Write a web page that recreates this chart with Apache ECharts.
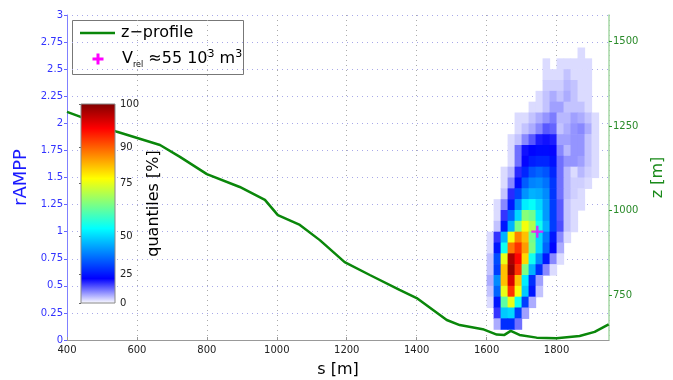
<!DOCTYPE html>
<html>
<head>
<meta charset="utf-8">
<script src="https://cdn.jsdelivr.net/npm/echarts@6/dist/echarts.min.js"></script>
<style>
  html, body { margin: 0; padding: 0; background: #fff; }
  #chart { width: 673px; height: 380px; }
</style>
</head>
<body>
<div id="chart"></div>
<script>
// z-profile along the path
const profileS = [400, 437, 543, 666, 723, 800, 894, 966, 1003, 1066, 1123, 1194, 1266, 1351, 1400, 1486, 1523, 1589, 1629, 1651, 1669, 1694, 1743, 1800, 1866, 1909, 1949];
const profileZ = [1292, 1278, 1233, 1194, 1159, 1108, 1070, 1032, 987, 958, 913, 848, 810, 766, 742, 677, 662, 650, 634, 633, 645, 633, 625, 623, 630, 642, 664];

// release point marker
const markerS = [1745];
const markerR = [1.0];

// axis ticks
const zTicks = [750, 1000, 1250, 1500];
const quantTicks = [0, 25, 50, 75, 90, 100];
const quantPos = [0, 0.146, 0.337, 0.603, 0.784, 1];   // where each quantile label sits on the bar

// density grid: lower-left corners of cells, values are quantiles [%]
const cellS = [1600, 1620, 1640, 1660, 1680, 1700, 1720, 1740, 1760, 1780, 1800, 1820, 1840, 1860, 1880, 1900, 1920];
const cellR = [2.6, 2.5, 2.4, 2.3, 2.2, 2.1, 2.0, 1.9, 1.8, 1.7, 1.6, 1.5, 1.4, 1.3, 1.2, 1.1, 1.0, 0.9, 0.8, 0.7, 0.6, 0.5, 0.4, 0.3, 0.2, 0.1];
const quantileGrid = [
  [0, 0, 0, 0, 0, 0, 0, 0, 0, 0, 0, 0, 0, 3, 0, 0, 0],
  [0, 0, 0, 0, 0, 0, 0, 0, 3, 0, 3, 3, 3, 3, 3, 0, 0],
  [0, 0, 0, 0, 0, 0, 0, 0, 3, 3, 3, 5, 3, 3, 3, 0, 0],
  [0, 0, 0, 0, 0, 0, 0, 0, 4, 4, 4, 6, 5, 3, 3, 0, 0],
  [0, 0, 0, 0, 0, 0, 0, 3, 5, 7, 5, 7, 5, 3, 3, 0, 0],
  [0, 0, 0, 0, 0, 0, 3, 3, 5, 8, 8, 5, 5, 5, 3, 0, 0],
  [0, 0, 0, 0, 3, 3, 5, 7, 9, 11, 6, 6, 8, 7, 5, 3, 0],
  [0, 0, 0, 0, 3, 5, 7, 10, 14, 13, 5, 7, 9, 10, 7, 3, 0],
  [0, 0, 0, 3, 5, 10, 14, 19, 20, 19, 8, 8, 9, 9, 5, 3, 0],
  [0, 0, 0, 3, 12, 20, 22, 23, 23, 21, 10, 6, 9, 9, 5, 3, 0],
  [0, 0, 0, 3, 12, 21, 26, 27, 27, 24, 12, 9, 9, 8, 5, 3, 0],
  [0, 0, 3, 6, 18, 27, 33, 35, 33, 27, 12, 6, 3, 6, 4, 3, 0],
  [0, 0, 3, 10, 23, 34, 39, 40, 37, 29, 12, 6, 4, 4, 3, 0, 0],
  [0, 0, 5, 18, 31, 41, 45, 44, 40, 29, 12, 6, 4, 3, 0, 0, 0],
  [0, 3, 10, 25, 40, 52, 54, 50, 42, 30, 14, 5, 3, 3, 0, 0, 0],
  [0, 3, 17, 35, 50, 66, 64, 52, 42, 30, 14, 5, 3, 0, 0, 0, 0],
  [0, 5, 25, 45, 65, 76, 70, 55, 45, 30, 15, 5, 3, 0, 0, 0, 0],
  [3, 17, 45, 76, 87, 82, 64, 50, 38, 25, 10, 3, 0, 0, 0, 0, 0],
  [3, 25, 55, 88, 92, 85, 65, 50, 35, 22, 7, 0, 0, 0, 0, 0, 0],
  [5, 32, 75, 98, 94, 80, 55, 40, 25, 10, 3, 0, 0, 0, 0, 0, 0],
  [5, 30, 82, 99, 92, 65, 45, 28, 10, 3, 0, 0, 0, 0, 0, 0, 0],
  [7, 40, 82, 96, 82, 52, 28, 8, 0, 0, 0, 0, 0, 0, 0, 0, 0],
  [5, 35, 75, 92, 76, 48, 25, 5, 0, 0, 0, 0, 0, 0, 0, 0, 0],
  [3, 25, 62, 75, 55, 30, 7, 0, 0, 0, 0, 0, 0, 0, 0, 0, 0],
  [0, 17, 48, 50, 30, 8, 0, 0, 0, 0, 0, 0, 0, 0, 0, 0, 0],
  [0, 7, 28, 28, 12, 0, 0, 0, 0, 0, 0, 0, 0, 0, 0, 0, 0]
];

// jet with a white bottom end
const jetColors = ['#ffffff', '#0000ff', '#0080ff', '#00ffff', '#80ff80', '#ffff00', '#ff8000', '#ff0000', '#800000'];

const cellDs = cellS[1] - cellS[0];
const cellDr = +(cellR[0] - cellR[1]).toFixed(3);

// quantile -> position on the colour bar
function quantToPos(q) {
  for (let i = 1; i < quantTicks.length; i++) {
    if (q <= quantTicks[i]) {
      const f = (q - quantTicks[i - 1]) / (quantTicks[i] - quantTicks[i - 1]);
      return quantPos[i - 1] + f * (quantPos[i] - quantPos[i - 1]);
    }
  }
  return 1;
}

const heatData = [];
quantileGrid.forEach((row, i) => {
  row.forEach((q, j) => {
    if (q > 0) heatData.push([cellS[j], cellR[i], quantToPos(q)]);
  });
});

const chart = echarts.init(document.getElementById('chart'));
const font = 'DejaVu Sans';
const green = '#0a870a';
const plain = v => String(v);

const option = {
  animation: false,
  textStyle: { fontFamily: font },
  grid: [
    { left: 67, right: 64, top: 15, bottom: 40, outerBoundsMode: 'none' },
    { left: 81, top: 104, width: 34, height: 199, outerBoundsMode: 'none' }
  ],
  visualMap: {
    type: 'continuous',
    show: false,
    seriesIndex: 0,
    dimension: 2,
    min: 0,
    max: 1,
    inRange: { color: jetColors }
  },
  // legend box drawn by hand so the sub/superscripts and icons match
  graphic: [
    {
      type: 'group',
      z: 100,
      children: [
        { type: 'rect', shape: { x: 72.5, y: 20.5, width: 171, height: 54 }, style: { fill: '#fff', stroke: '#777', lineWidth: 1 } },
        { type: 'line', shape: { x1: 80, y1: 33, x2: 115, y2: 33 }, style: { stroke: green, lineWidth: 2.5 } },
        { type: 'text', x: 121, y: 33, style: { text: 'z−profile', font: '16px "DejaVu Sans"', fill: '#000', verticalAlign: 'middle' } },
        {
          type: 'polygon',
          shape: { points: [[96.5, 53.5], [99.5, 53.5], [99.5, 57.5], [103.5, 57.5], [103.5, 60.5], [99.5, 60.5], [99.5, 64.5], [96.5, 64.5], [96.5, 60.5], [92.5, 60.5], [92.5, 57.5], [96.5, 57.5]] },
          style: { fill: '#ff00ff' }
        },
        {
          type: 'text', x: 122, y: 59,
          style: {
            text: '{a|V}{sub|rel}{a| ≈55 10}{sup|3}{a| m}{sup|3}',
            verticalAlign: 'middle',
            rich: {
              a: { fontFamily: font, fontSize: 16, fill: '#000', lineHeight: 20 },
              sub: { fontFamily: font, fontSize: 8, fill: '#000', lineHeight: 8, verticalAlign: 'bottom' },
              sup: { fontFamily: font, fontSize: 11, fill: '#000', lineHeight: 10, verticalAlign: 'top' }
            }
          }
        }
      ]
    }
  ],
  xAxis: [
    {
      gridIndex: 0,
      type: 'value',
      min: 400,
      max: 1950,
      interval: 200,
      name: 's [m]',
      nameLocation: 'middle',
      nameGap: 22,
      nameTextStyle: { fontFamily: font, fontSize: 16, color: '#000' },
      axisLine: { lineStyle: { color: '#999', width: 1 } },
      axisTick: { inside: true, length: 3, lineStyle: { color: '#999' } },
      axisLabel: { fontFamily: font, fontSize: 10, color: '#222', margin: 5, showMaxLabel: false, formatter: plain },
      splitLine: { show: true, lineStyle: { color: '#aaa', type: [1, 4], width: 1 } }
    },
    { gridIndex: 1, type: 'value', min: 0, max: 1, show: false }
  ],
  yAxis: [
    {
      gridIndex: 0,
      type: 'value',
      position: 'left',
      min: 0,
      max: 3,
      interval: 0.25,
      name: 'rAMPP',
      nameLocation: 'middle',
      nameGap: 30,
      nameTextStyle: { fontFamily: font, fontSize: 18, color: '#1a1aff' },
      axisLine: { show: true, lineStyle: { color: '#8080ff', width: 1 } },
      axisTick: { show: true, length: 3, lineStyle: { color: '#6666ff' } },
      axisLabel: { fontFamily: font, fontSize: 10, color: '#3333ff', margin: 4 },
      splitLine: { show: true, lineStyle: { color: '#a9a9e8', type: [1, 4], width: 1 } }
    },
    {
      gridIndex: 0,
      type: 'value',
      position: 'right',
      min: 618,
      max: 1578,
      name: 'z [m]',
      nameLocation: 'middle',
      nameRotate: 90,
      nameGap: 27,
      nameTextStyle: { fontFamily: font, fontSize: 16, color: '#1a8a1a' },
      axisLine: { show: true, lineStyle: { color: '#a6d8a6', width: 1.5 } },
      axisTick: { show: true, length: 3, customValues: zTicks, lineStyle: { color: '#2a9a2a' } },
      axisLabel: { fontFamily: font, fontSize: 10, color: '#2a8a2a', margin: 4, customValues: zTicks, formatter: plain },
      splitLine: { show: false }
    },
    {
      gridIndex: 1,
      type: 'value',
      position: 'right',
      min: 0,
      max: 1,
      name: 'quantiles [%]',
      nameLocation: 'middle',
      nameRotate: 90,
      nameGap: 31,
      nameTextStyle: { fontFamily: font, fontSize: 16, color: '#000' },
      axisLine: { show: false },
      axisTick: { show: true, inside: true, length: 2, customValues: quantPos, lineStyle: { color: '#666' } },
      axisLabel: {
        fontFamily: font, fontSize: 10, color: '#222', margin: 5,
        customValues: quantPos,
        formatter: v => {
          let best = 0;
          quantPos.forEach((p, i) => { if (Math.abs(p - v) < Math.abs(quantPos[best] - v)) best = i; });
          return String(quantTicks[best]);
        }
      },
      splitLine: { show: false }
    }
  ],
  series: [
    {
      type: 'custom',
      name: 'density',
      xAxisIndex: 0,
      yAxisIndex: 0,
      z: 2,
      data: heatData,
      renderItem: (params, api) => {
        const s0 = api.value(0), r0 = api.value(1);
        const a = api.coord([s0, r0 + cellDr]);
        const b = api.coord([s0 + cellDs, r0]);
        return {
          type: 'rect',
          shape: { x: a[0], y: a[1], width: b[0] - a[0] + 0.6, height: b[1] - a[1] + 0.6 },
          style: { fill: api.visual('color') }
        };
      }
    },
    {
      type: 'line',
      name: 'z−profile',
      xAxisIndex: 0,
      yAxisIndex: 1,
      z: 3,
      symbol: 'none',
      lineStyle: { color: green, width: 2.5 },
      data: profileS.map((s, i) => [s, profileZ[i]])
    },
    {
      type: 'scatter',
      name: 'Vrel',
      xAxisIndex: 0,
      yAxisIndex: 0,
      z: 4,
      symbol: 'path://M4,0H6V4H10V6H6V10H4V6H0V4H4Z',
      symbolSize: 12,
      itemStyle: { color: '#ff00ff' },
      data: markerS.map((s, i) => [s, markerR[i]])
    },
    {
      type: 'custom',
      name: 'colorbar',
      xAxisIndex: 1,
      yAxisIndex: 2,
      z: 10,
      silent: true,
      data: [[0, 0]],
      renderItem: (params, api) => {
        const a = api.coord([0, 1]);
        const b = api.coord([1, 0]);
        const stops = jetColors.map((c, i) => ({ offset: i / (jetColors.length - 1), color: c }));
        return {
          type: 'rect',
          shape: { x: a[0], y: a[1], width: b[0] - a[0], height: b[1] - a[1] },
          style: {
            fill: new echarts.graphic.LinearGradient(0, 1, 0, 0, stops),
            stroke: '#888',
            lineWidth: 1
          }
        };
      }
    }
  ]
};

chart.setOption(option);
</script>
</body>
</html>
